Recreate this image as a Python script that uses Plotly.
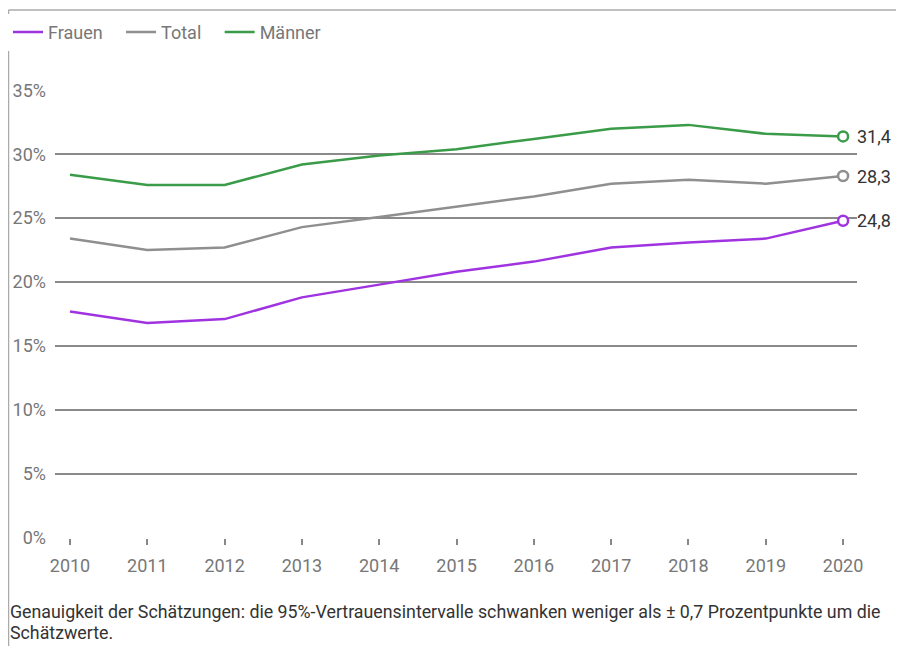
import plotly.graph_objects as go

# data
years = [2010, 2011, 2012, 2013, 2014, 2015, 2016, 2017, 2018, 2019, 2020]
frauen = [17.7, 16.8, 17.1, 18.8, 19.8, 20.8, 21.6, 22.7, 23.1, 23.4, 24.8]
total = [23.4, 22.5, 22.7, 24.3, 25.1, 25.9, 26.7, 27.7, 28.0, 27.7, 28.3]
maenner = [28.4, 27.6, 27.6, 29.2, 29.9, 30.4, 31.2, 32.0, 32.3, 31.6, 31.4]
y_ticks = [0, 5, 10, 15, 20, 25, 30, 35]
y_labels = ['0%', '5%', '10%', '15%', '20%', '25%', '30%', '35%']
footnote_lines = ['Genauigkeit der Schätzungen: die 95%-Vertrauensintervalle schwanken weniger als ± 0,7 '
                  'Prozentpunkte um die',
                  'Schätzwerte.']

series = [('Frauen', frauen, '#a033e0'),
          ('Total', total, '#8f8f8f'),
          ('Männer', maenner, '#3a9b48')]

fig = go.Figure()

for name, vals, col in series:
    # trailing no-break spaces widen the gap between legend entries
    fig.add_trace(go.Scatter(x=years, y=vals, mode='lines', name=name + '\u00a0' * 3,
                             line=dict(color=col, width=2.5)))
    # open circle on the last point
    fig.add_trace(go.Scatter(x=[years[-1]], y=[vals[-1]], mode='markers', showlegend=False,
                             marker=dict(symbol='circle', size=10, color='white',
                                         line=dict(color=col, width=2.5))))
    fig.add_annotation(x=years[-1], y=vals[-1], text=f'{vals[-1]:.1f}'.replace('.', ','),
                       showarrow=False, xanchor='left', xshift=12,
                       font=dict(size=18, color='#333333'))

# footnote, one annotation per line for tighter line spacing
for i, line in enumerate(footnote_lines):
    fig.add_annotation(xref='paper', yref='paper', x=-0.059, y=-0.163 - i * 0.049,
                       xanchor='left', yanchor='middle', text=line, showarrow=False,
                       font=dict(size=17.8, color='#333333'))

# frame lines (top and left)
fig.add_shape(type='line', xref='paper', yref='paper', x0=-0.058, x1=1.07, y0=1.1786, y1=1.1786,
              line=dict(color='#aaaaaa', width=1.5))
fig.add_shape(type='line', xref='paper', yref='paper', x0=-0.058, x1=-0.058, y0=1.1786, y1=-0.25,
              line=dict(color='#aaaaaa', width=1.5))

# page body has an 8px margin, so the figure is 8px smaller and margins shifted
fig.update_layout(
    width=896, height=638,
    margin=dict(l=47, r=47, t=82, b=108, autoexpand=False),
    paper_bgcolor='white', plot_bgcolor='white',
    font=dict(family='Roboto', color='#777777', size=18),
    legend=dict(orientation='h', xref='container', yref='container', x=0, y=0.962,
                xanchor='left', yanchor='middle',
                font=dict(size=18, color='#777777'), itemwidth=30, tracegroupgap=0),
    showlegend=True,
)
fig.update_xaxes(range=[2009.806, 2020.18], tickvals=years, ticks='outside', ticklen=6,
                 tickcolor='#888888', tickwidth=1.5, showgrid=False, zeroline=False,
                 showline=False, ticklabelstandoff=5, automargin=False,
                 tickfont=dict(size=18, color='#777777'))
fig.update_yaxes(range=[-0.03, 35.03], tickvals=y_ticks, ticktext=y_labels, showgrid=True,
                 gridcolor='#8a8a8a', gridwidth=1.5, zeroline=False, showline=False,
                 ticks='', ticklabelstandoff=8, automargin=False,
                 tickfont=dict(size=18, color='#777777'))

fig.write_html("out.html")
